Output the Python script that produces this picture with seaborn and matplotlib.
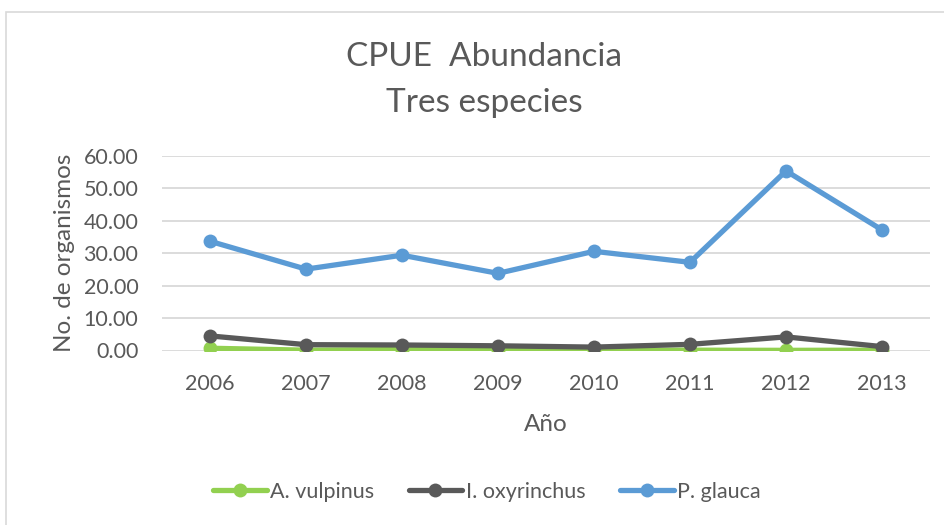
import matplotlib
matplotlib.use("Agg")
import matplotlib.pyplot as plt
from matplotlib.patches import Rectangle
import seaborn as sns
import pandas as pd

years = ["2006", "2007", "2008", "2009", "2010", "2011", "2012", "2013"]
a_vulpinus = [0.7, 0.1, 0.3, 0.2, 0.1, 0.1, 0.05, 0.1]
i_oxyrinchus = [4.5, 1.8, 1.7, 1.45, 1.05, 1.9, 4.2, 1.2]
p_glauca = [33.7, 25.1, 29.4, 23.8, 30.6, 27.2, 55.4, 37.2]
series_names = ["A. vulpinus", "I. oxyrinchus", "P. glauca"]
y_ticks = [0, 10, 20, 30, 40, 50, 60]

colors = ["#92D050", "#595959", "#5B9BD5"]
text_color = "#595959"

sns.set_theme(style="white")
plt.rcParams["font.family"] = ["Lato", "DejaVu Sans"]

rows = []
for name, vals in zip(series_names, [a_vulpinus, i_oxyrinchus, p_glauca]):
    for i, (yr, v) in enumerate(zip(years, vals)):
        rows.append({"pos": i, "Año": yr, "valor": v, "serie": name})
df = pd.DataFrame(rows)

fig = plt.figure(figsize=(9.45, 5.25), dpi=100)
ax = fig.add_axes([162 / 945, 1 - 350.5 / 525, (930 - 162) / 945, (350.5 - 156) / 525])

sns.lineplot(data=df, x="pos", y="valor", hue="serie", hue_order=series_names,
             palette=colors, marker="o", markersize=10, linewidth=3.8,
             markeredgewidth=0, ax=ax, legend=False, zorder=3)

ax.set_xlim(-0.5, len(years) - 0.5)
ax.set_ylim(0, 60)
ax.set_xticks(range(len(years)))
ax.set_xticklabels(years)
ax.set_yticks(y_ticks)
ax.set_yticklabels([f"{v:.2f}" for v in y_ticks])
ax.yaxis.grid(True, color="#D9D9D9", linewidth=1.3, zorder=0)
ax.xaxis.grid(False)
for s in ax.spines.values():
    s.set_visible(False)
ax.tick_params(axis="both", length=0, labelsize=15.5, colors=text_color)
ax.tick_params(axis="x", pad=17)
ax.tick_params(axis="y", pad=17)
for lab in ax.get_ymajorticklabels():
    lab.set_clip_on(False)

ax.set_xlabel("Año", fontsize=17.5, color=text_color, labelpad=14)
ax.set_ylabel("No. de organismos", fontsize=17.5, color=text_color, labelpad=6)

fig.text(0.512, 1 - 57 / 525, "CPUE  Abundancia", ha="center", va="center",
         fontsize=24, color=text_color)
fig.text(0.512, 1 - 103 / 525, "Tres especies", ha="center", va="center",
         fontsize=24, color=text_color)

handles = [plt.Line2D([], [], color=c, linewidth=3.8, marker="o", markersize=10,
                      markeredgewidth=0) for c in colors]
fig.legend(handles, series_names, loc="center", bbox_to_anchor=(0.515, 1 - 492 / 525),
           ncol=3, frameon=False, fontsize=15.5, labelcolor=text_color,
           handlelength=2.5, handletextpad=0.15, columnspacing=1.6)

fig.patches.append(Rectangle((6 / 945, -0.05), 1.1, 1 - 12 / 525 + 0.05,
                             transform=fig.transFigure, fill=False,
                             edgecolor="#D9D9D9", linewidth=1.2))

fig.savefig("out.png", dpi=100)
